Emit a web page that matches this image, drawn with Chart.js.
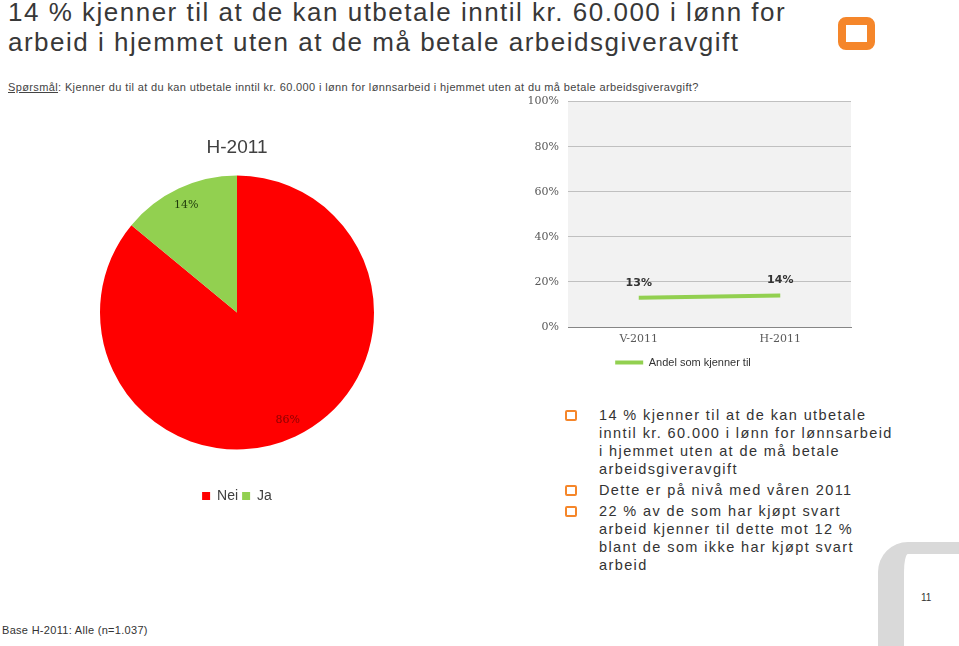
<!DOCTYPE html>
<html>
<head>
<meta charset="utf-8">
<script src="https://cdn.jsdelivr.net/npm/chart.js@4/dist/chart.umd.min.js"></script>
<style>
    body { margin: 0; background: #fff; font-family: 'Liberation Sans', Arial, sans-serif; }
    #page { position: relative; width: 959px; height: 646px; overflow: hidden; }
    .abs { position: absolute; }
    #title { left: 8px; top: -3px; font-size: 26px; line-height: 30px; letter-spacing: 1.5px; color: #383838; white-space: nowrap; }
    #logo { left: 838px; top: 17px; width: 21px; height: 17px; border: 8px solid #f5862a; border-radius: 8px; }
    #question { left: 8px; top: 81px; font-size: 11px; letter-spacing: 0.37px; color: #444; white-space: nowrap; }
    #question u { text-decoration: underline; }
    #bullets { left: 565px; top: 406px; width: 340px; font-size: 14.5px; line-height: 18px; letter-spacing: 1.4px; color: #333; }
    .item { position: relative; padding-left: 34px; margin-bottom: 3px; white-space: nowrap; }
    .item .box { position: absolute; left: 0; top: 4px; width: 8px; height: 7px; border: 2px solid #f5862a; border-radius: 2px; }
    #corner { left: 878px; top: 542px; width: 120px; height: 120px; border-left: 26px solid #d9d9d9; border-top: 12px solid #d9d9d9; border-top-left-radius: 30px; }
    #pagenum { left: 921px; top: 592px; font-size: 10px; color: #333; }
    #base { left: 2px; top: 624px; font-size: 11px; color: #333; letter-spacing: 0.3px; }
    #pieWrap { left: 90px; top: 130px; width: 294px; height: 383px; }
    #lineWrap { left: 515px; top: 86px; width: 345px; height: 292px; }
</style>
</head>
<body>
<div id="page">
    <div id="title" class="abs">14 % kjenner til at de kan utbetale inntil kr. 60.000 i lønn for<br>arbeid i hjemmet uten at de må betale arbeidsgiveravgift</div>
    <div id="logo" class="abs"></div>
    <div id="question" class="abs"><u>Spørsmål</u>: Kjenner du til at du kan utbetale inntil kr. 60.000 i lønn for lønnsarbeid i hjemmet uten at du må betale arbeidsgiveravgift?</div>

    <div id="pieWrap" class="abs"><canvas id="pieChart" width="294" height="383"></canvas></div>
    <div id="lineWrap" class="abs"><canvas id="lineChart" width="345" height="292"></canvas></div>

    <div id="bullets" class="abs">
        <div class="item"><span class="box"></span>14 % kjenner til at de kan utbetale<br>inntil kr. 60.000 i lønn for lønnsarbeid<br>i hjemmet uten at de må betale<br>arbeidsgiveravgift</div>
        <div class="item"><span class="box"></span>Dette er på nivå med våren 2011</div>
        <div class="item"><span class="box"></span>22 % av de som har kjøpt svart<br>arbeid kjenner til dette mot 12 %<br>blant de som ikke har kjøpt svart<br>arbeid</div>
    </div>

    <div id="corner" class="abs"></div>
    <div id="pagenum" class="abs">11</div>
    <div id="base" class="abs">Base H-2011: Alle (n=1.037)</div>
</div>

<script>
// pie - H-2011
var pieTitle = 'H-2011'
var pieLabels = ['Nei', 'Ja']
var pieValues = [86, 14]
var pieColors = ['#ff0000', '#92d050']
var pieLabelColors = ['#8a0000', '#1f3a0c']

// line - andel som kjenner til
var lineLabels = ['V-2011', 'H-2011']
var lineValues = [13, 14]
var lineSeriesName = 'Andel som kjenner til'
var yMin = 0
var yMax = 100
var yStep = 20

Chart.defaults.font.family = "'Liberation Sans', Arial, sans-serif"
Chart.defaults.animation = false

// writes the % values on the pie slices
var pieValueLabels = {
    id: 'pieValueLabels',
    afterDatasetsDraw: function (chart) {
        var ctx = chart.ctx
        var meta = chart.getDatasetMeta(0)
        ctx.save()
        ctx.font = "11px 'DejaVu Serif', serif"
        ctx.textAlign = 'center'
        ctx.textBaseline = 'middle'
        meta.data.forEach(function (arc, i) {
            var mid = (arc.startAngle + arc.endAngle) / 2
            var r = arc.outerRadius * 0.87
            ctx.fillStyle = pieLabelColors[i]
            ctx.fillText(pieValues[i] + '%', arc.x + Math.cos(mid) * r, arc.y + Math.sin(mid) * r)
        })
        ctx.restore()
    }
}

// grey plot background + point labels for the line chart
var plotBackground = {
    id: 'plotBackground',
    beforeDraw: function (chart) {
        var a = chart.chartArea
        chart.ctx.save()
        chart.ctx.fillStyle = '#f2f2f2'
        chart.ctx.fillRect(a.left, a.top, a.right - a.left, a.bottom - a.top)
        chart.ctx.restore()
    }
}

var lineValueLabels = {
    id: 'lineValueLabels',
    afterDatasetsDraw: function (chart) {
        var ctx = chart.ctx
        var meta = chart.getDatasetMeta(0)
        ctx.save()
        ctx.font = "bold 11px 'DejaVu Sans', sans-serif"
        ctx.fillStyle = '#333'
        ctx.textAlign = 'center'
        ctx.textBaseline = 'middle'
        meta.data.forEach(function (pt, i) {
            ctx.fillText(lineValues[i] + '%', pt.x, pt.y - 15)
        })
        ctx.restore()
    }
}

var pieChart = new Chart(document.getElementById('pieChart').getContext('2d'), {
    type: 'pie',
    data: {
        labels: pieLabels,
        datasets: [{
            data: pieValues,
            backgroundColor: pieColors,
            borderWidth: 0,
            radius: 137
        }]
    },
    options: {
        responsive: false,
        layout: { padding: 0 },
        plugins: {
            title: {
                display: true,
                text: pieTitle,
                color: '#404040',
                font: { size: 19, weight: 'normal' },
                padding: { top: 6, bottom: 15 }
            },
            legend: {
                position: 'bottom',
                title: { display: true, text: ' ', font: { size: 14 }, padding: { top: 0, bottom: 17 } },
                labels: {
                    color: '#404040',
                    font: { size: 14 },
                    boxWidth: 8,
                    boxHeight: 8,
                    padding: 4
                }
            },
            tooltip: { enabled: false }
        }
    },
    plugins: [pieValueLabels]
})

var lineChart = new Chart(document.getElementById('lineChart').getContext('2d'), {
    type: 'line',
    data: {
        labels: lineLabels,
        datasets: [{
            label: lineSeriesName,
            data: lineValues,
            borderColor: '#92d050',
            backgroundColor: '#92d050',
            borderWidth: 4,
            pointRadius: 0,
            fill: false
        }]
    },
    options: {
        responsive: false,
        layout: { padding: { top: 10, right: 9, left: 0, bottom: 0 } },
        scales: {
            x: {
                offset: true,
                grid: { display: false, drawTicks: false },
                border: { display: true, color: '#868686', width: 1 },
                ticks: { color: '#595959', font: { size: 11, family: "'DejaVu Serif', serif" }, padding: 6 },
                afterFit: function (s) { s.height = 24 }
            },
            y: {
                min: yMin,
                max: yMax,
                grid: { color: '#c0c0c0', drawTicks: false },
                border: { display: false },
                ticks: {
                    stepSize: yStep,
                    padding: 9,
                    color: '#595959',
                    font: { size: 11, family: "'DejaVu Serif', serif" },
                    callback: function (v) { return v + '%' }
                },
                afterFit: function (s) { s.width = 53 }
            }
        },
        plugins: {
            legend: {
                position: 'bottom',
                labels: {
                    color: '#333',
                    font: { size: 11 },
                    usePointStyle: true,
                    pointStyle: 'line',
                    pointStyleWidth: 28,
                    padding: 6
                }
            },
            tooltip: { enabled: false }
        }
    },
    plugins: [plotBackground, lineValueLabels]
})
</script>
</body>
</html>
